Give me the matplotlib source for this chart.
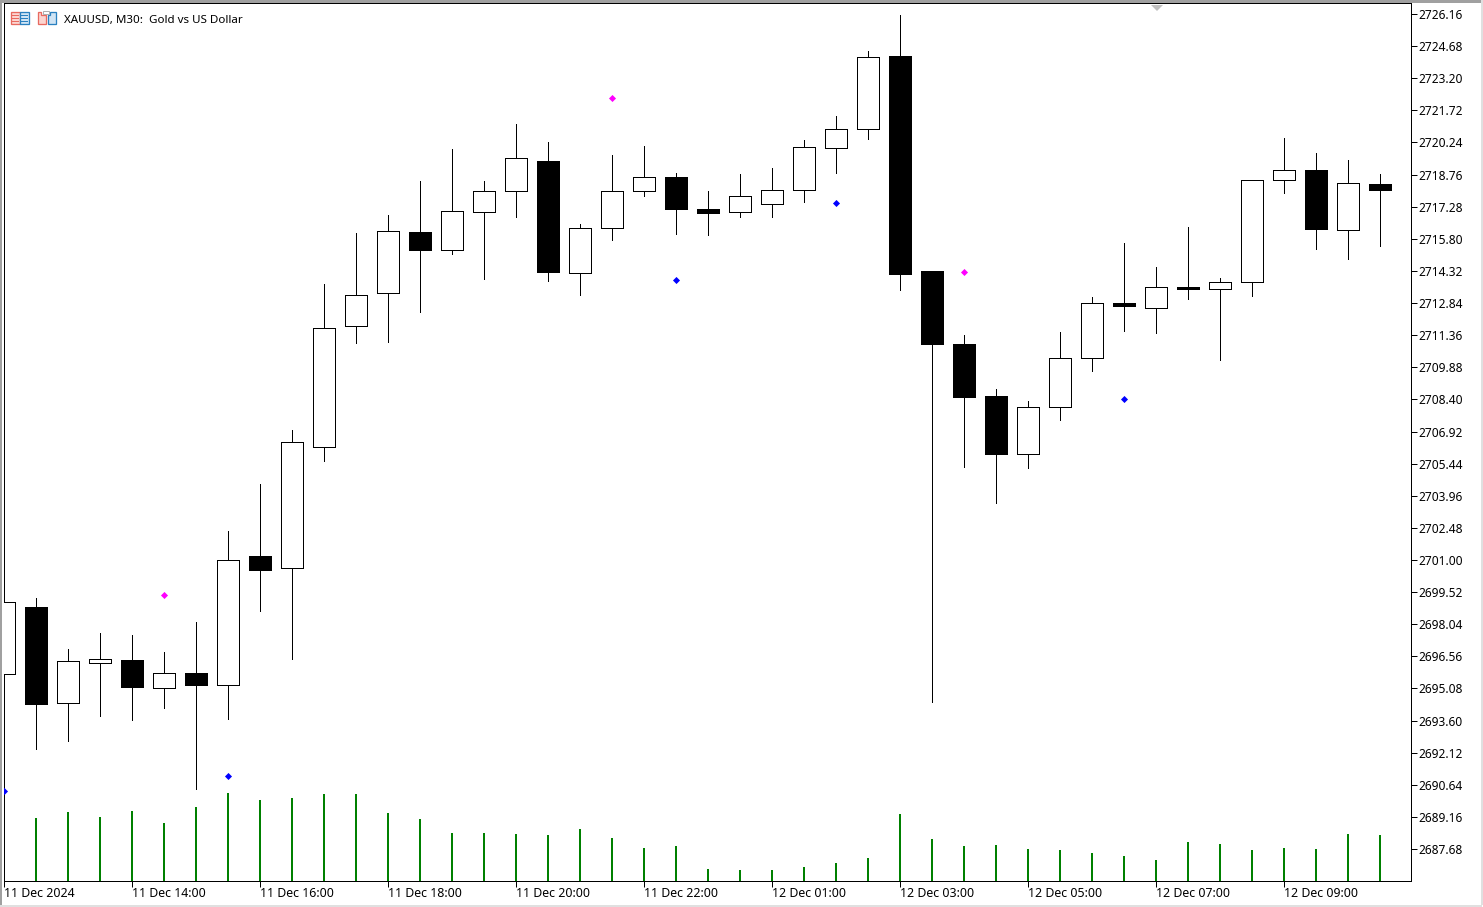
# XAUUSD M30 candlestick chart, MetaTrader style
import numpy as np
import matplotlib
matplotlib.use("Agg")
from matplotlib import pyplot as plt
from matplotlib.patches import Rectangle, Polygon

plt.rcParams['font.family'] = ['Noto Sans', 'DejaVu Sans']

opens = [2695.75, 2698.83, 2694.41, 2696.25, 2696.39, 2695.10, 2695.79, 2695.24, 2701.18, 2700.63, 2706.21,
         2711.78, 2713.30, 2716.11, 2715.29, 2717.04, 2718.00, 2719.39, 2714.22, 2716.30, 2718.00, 2718.65,
         2717.17, 2717.04, 2717.40, 2718.05, 2719.98, 2720.86, 2724.22, 2714.32, 2710.95, 2708.56, 2705.88,
         2708.05, 2710.31, 2712.84, 2712.61, 2713.58, 2713.49, 2713.81, 2718.51, 2718.97, 2716.21, 2718.33]
highs = [2699.06, 2699.25, 2696.90, 2697.64, 2697.54, 2696.76, 2698.14, 2702.34, 2704.50, 2706.99, 2713.72,
         2716.07, 2716.90, 2718.47, 2719.94, 2718.47, 2721.09, 2720.26, 2716.48, 2719.66, 2720.08, 2718.83,
         2718.00, 2718.79, 2719.06, 2720.35, 2721.46, 2724.45, 2726.11, 2714.32, 2711.37, 2708.88, 2708.33,
         2711.51, 2713.12, 2715.61, 2714.50, 2716.34, 2713.99, 2718.51, 2720.45, 2719.76, 2719.43, 2718.79]
lows = [2695.75, 2692.29, 2692.66, 2693.81, 2693.63, 2694.18, 2690.45, 2693.67, 2698.65, 2696.44, 2705.56,
        2711.00, 2711.05, 2712.43, 2715.10, 2713.95, 2716.81, 2713.86, 2713.21, 2715.75, 2717.77, 2716.02,
        2715.98, 2716.81, 2716.81, 2717.50, 2718.83, 2720.40, 2713.44, 2694.46, 2705.29, 2703.63, 2705.24,
        2707.45, 2709.71, 2711.55, 2711.46, 2713.03, 2710.22, 2713.17, 2717.91, 2715.33, 2714.87, 2715.47]
closes = [2699.06, 2694.36, 2696.35, 2696.44, 2695.15, 2695.79, 2695.24, 2701.00, 2700.54, 2706.44, 2711.69,
          2713.21, 2716.16, 2715.29, 2717.08, 2718.00, 2719.52, 2714.27, 2716.30, 2718.00, 2718.65, 2717.17,
          2716.99, 2717.77, 2718.05, 2720.03, 2720.86, 2724.18, 2714.18, 2710.95, 2708.51, 2705.88, 2708.05,
          2710.31, 2712.84, 2712.70, 2713.58, 2713.49, 2713.81, 2718.51, 2718.97, 2716.25, 2718.37, 2718.05]
volumes = [0, 2205, 2415, 2240, 2450, 2030, 2590, 3080, 2835, 2905, 3045,
           3045, 2380, 2170, 1680, 1680, 1645, 1610, 1820, 1505, 1155, 1225,
           420, 385, 385, 490, 630, 805, 2345, 1470, 1225, 1260, 1120,
           1085, 980, 875, 735, 1365, 1295, 1085, 1155, 1120, 1645, 1610]

# fractal markers
up_idx = [5, 19, 30]
up_price = [2699.39, 2722.29, 2714.27]
down_idx = [0, 7, 21, 26, 35]
down_price = [2690.36, 2691.05, 2713.90, 2717.45, 2708.42]

price_ticks = [2726.16, 2724.68, 2723.20, 2721.72, 2720.24, 2718.76, 2717.28, 2715.80, 2714.32,
               2712.84, 2711.36, 2709.88, 2708.40, 2706.92, 2705.44, 2703.96, 2702.48, 2701.00,
               2699.52, 2698.04, 2696.56, 2695.08, 2693.60, 2692.12, 2690.64, 2689.16, 2687.68]
time_idx = [0, 4, 8, 12, 16, 20, 24, 28, 32, 36, 40]
time_labels = ['11 Dec 2024', '11 Dec 14:00', '11 Dec 16:00', '11 Dec 18:00', '11 Dec 20:00', '11 Dec 22:00',
               '12 Dec 01:00', '12 Dec 03:00', '12 Dec 05:00', '12 Dec 07:00', '12 Dec 09:00']

W, H = 1483, 907
PX = 0.72  # one pixel in points at dpi 100

fig = plt.figure(figsize=(W / 100, H / 100), dpi=100, facecolor='white')
left, right, top, bottom = 3.5, 1410.5, 3.5, 880.5
ax = fig.add_axes([left / W, 1 - bottom / H, (right - left) / W, (bottom - top) / H])
ax.set_xlim(0, (right - left) / 32)
ax.set_ylim(2686.233, 2726.643)

x = np.arange(len(opens))
o = np.array(opens)
c = np.array(closes)

# volumes on their own hidden scale
vol_ax = ax.twinx()
vol_ax.set_ylim(0, 30695)
vol_ax.vlines(x, 0, volumes, color='#008000', lw=2 * PX, capstyle='butt', antialiased=False)
vol_ax.axis('off')
ax.set_zorder(vol_ax.get_zorder() + 1)
ax.patch.set_visible(False)

ax.vlines(x, lows, highs, color='black', lw=PX, capstyle='butt', antialiased=False, zorder=2)
up = c >= o
nudge = 0.015  # bodies sit half a pixel right of the wick
ax.bar(x[up] + nudge, (c - o)[up], bottom=o[up], width=0.70, facecolor='white', edgecolor='black',
       linewidth=PX, antialiased=False, zorder=3)
ax.bar(x[~up] + nudge, (o - c)[~up], bottom=c[~up], width=0.70, facecolor='black', edgecolor='black',
       linewidth=PX, antialiased=False, zorder=3)

ax.scatter(up_idx, up_price, marker='D', s=13, color='#ff00ff', linewidths=0, zorder=4)
ax.scatter(down_idx, down_price, marker='D', s=13, color='#0000ff', linewidths=0, zorder=4)

ax.yaxis.tick_right()
ax.set_yticks(price_ticks)
ax.set_yticklabels(['%.2f' % p for p in price_ticks])
ax.set_xticks(time_idx)
ax.set_xticklabels(time_labels, ha='left')
ax.tick_params(axis='y', length=4, width=PX, pad=1.5, labelsize=8.6)
ax.tick_params(axis='x', length=4, width=PX, pad=1, labelsize=8.9)
for s in ax.spines.values():
    s.set_linewidth(PX)
    s.set_edgecolor('black')

# window chrome in pixel coordinates
ov = fig.add_axes([0, 0, 1, 1], zorder=10)
ov.set_xlim(0, W)
ov.set_ylim(H, 0)
ov.axis('off')
ov.patch.set_visible(False)
ov.add_patch(Rectangle((0, 0), W, 3, facecolor='#a0a0a0', edgecolor='none'))
ov.add_patch(Rectangle((0, 0), 2, H, facecolor='#a0a0a0', edgecolor='none'))
ov.add_patch(Rectangle((1481, 0), 1.5, 905, facecolor='#e0e0e0', edgecolor='none'))
ov.add_patch(Rectangle((0, 905), 1482, 1.5, facecolor='#e0e0e0', edgecolor='none'))
ov.add_patch(Polygon([[1151, 5], [1163, 5], [1157, 11]], facecolor='#c0c0c0', edgecolor='none'))

# the two toolbar icons next to the title
ov.add_patch(Rectangle((10.5, 11.5), 9, 12, facecolor='#fcd5d0', edgecolor='#e86a60', lw=1.3 * PX))
ov.add_patch(Rectangle((19.5, 11.5), 9, 12, facecolor='#d0e4f4', edgecolor='#2a80c0', lw=1.3 * PX))
for yy in (15, 18, 21):
    ov.plot([12, 18], [yy, yy], color='#e86a60', lw=PX)
    ov.plot([21, 27], [yy, yy], color='#2a80c0', lw=PX)
ov.add_patch(Polygon([[37.5, 11.5], [41, 11.5], [41, 15], [45.5, 15], [45.5, 23.5], [37.5, 23.5]],
                     facecolor='#fcd5d0', edgecolor='#e86a60', lw=1.3 * PX))
ov.add_patch(Polygon([[47.5, 15], [50, 15], [50, 11.5], [55.5, 11.5], [55.5, 23.5], [47.5, 23.5]],
                     facecolor='#d0e4f4', edgecolor='#2a80c0', lw=1.3 * PX))
ov.add_patch(Rectangle((42.5, 10.5), 6, 3, facecolor='white', edgecolor='#b0b0b0', lw=PX))

ov.text(63.5, 20, 'XAUUSD, M30:  Gold vs US Dollar', fontsize=8.35, va='center', ha='left', color='black')

fig.savefig('out.png', dpi=100)
